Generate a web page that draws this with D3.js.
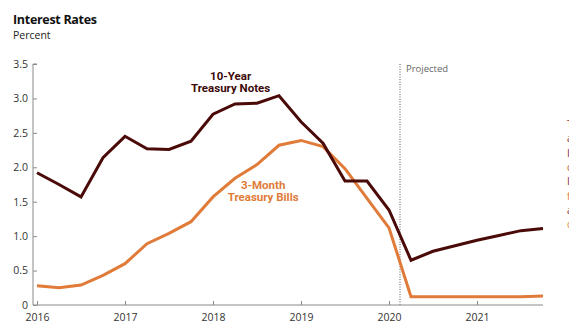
<!DOCTYPE html>
<html>
<head>
<meta charset="utf-8">
<title>Interest Rates</title>
<script src="https://d3js.org/d3.v7.min.js"></script>
<style>
  body { margin: 0; background: #fff; font-family: 'Open Sans', 'Liberation Sans', sans-serif; }
  svg { display: block; }
  .axis text { font-family: 'Open Sans', sans-serif; font-size: 10.5px; fill: #333; }
  .axis path, .axis line { stroke: #8a8a8a; }
  .lbl { font-family: 'Liberation Sans Narrow', 'Roboto', sans-serif; font-weight: bold; font-size: 11.5px; text-anchor: middle; }
</style>
</head>
<body>
<svg id="chart"></svg>
<script>
// quarterly, calendar years
const quarters = [2016, 2016.25, 2016.5, 2016.75, 2017, 2017.25, 2017.5, 2017.75,
  2018, 2018.25, 2018.5, 2018.75, 2019, 2019.25, 2019.5, 2019.75,
  2020, 2020.25, 2020.5, 2020.75, 2021, 2021.25, 2021.5, 2021.75];
const tenYear = [1.92, 1.75, 1.57, 2.14, 2.45, 2.27, 2.26, 2.38,
  2.77, 2.92, 2.93, 3.04, 2.66, 2.35, 1.80, 1.80,
  1.38, 0.65, 0.78, 0.86, 0.94, 1.01, 1.08, 1.11];
const threeMonth = [0.28, 0.25, 0.29, 0.43, 0.60, 0.89, 1.04, 1.21,
  1.57, 1.84, 2.04, 2.32, 2.39, 2.30, 1.98, 1.55,
  1.12, 0.12, 0.12, 0.12, 0.12, 0.12, 0.12, 0.13];
const yearTicks = [2016, 2017, 2018, 2019, 2020, 2021];
const rateTicks = [0, 0.5, 1.0, 1.5, 2.0, 2.5, 3.0, 3.5];
const projectedStart = 2020.125;

const width = 569, height = 335;
const margin = { top: 64, right: 26, bottom: 30, left: 37 };

const svg = d3.select("#chart").attr("width", width).attr("height", height);

const x = d3.scaleLinear().domain([2016, 2021.75]).range([margin.left, width - margin.right]);
const y = d3.scaleLinear().domain([0, 3.5]).range([height - margin.bottom, margin.top]);

// titles
svg.append("text").attr("x", 13).attr("y", 24)
  .style("font-family", "'Open Sans', sans-serif").style("font-weight", "bold")
  .style("font-size", "12.5px").style("fill", "#111").style("letter-spacing", "-0.3px")
  .text("Interest Rates");
svg.append("text").attr("x", 13).attr("y", 39)
  .style("font-family", "'Open Sans', sans-serif").style("font-size", "10.5px").style("fill", "#222")
  .text("Percent");

// projected divider
svg.append("line")
  .attr("x1", x(projectedStart)).attr("x2", x(projectedStart))
  .attr("y1", y(3.5)).attr("y2", y(0))
  .attr("stroke", "#555").attr("stroke-width", 1).attr("stroke-dasharray", "1,1.5");
svg.append("text").attr("x", x(projectedStart) + 6).attr("y", y(3.5) + 8)
  .style("font-family", "'Open Sans', sans-serif").style("font-size", "9.5px").style("fill", "#666")
  .text("Projected");

// axes
svg.append("g").attr("class", "axis")
  .attr("transform", `translate(${margin.left},0)`)
  .call(d3.axisLeft(y).tickValues(rateTicks).tickSize(4).tickPadding(5)
    .tickFormat(d => d === 0 ? "0" : d3.format(".1f")(d)))
  .call(g => g.select(".domain").attr("d", `M0,${y(3.5)}H-4V${y(0)}H0`));

svg.append("g").attr("class", "axis")
  .attr("transform", `translate(0,${height - margin.bottom})`)
  .call(d3.axisBottom(x).tickValues(yearTicks).tickSize(-4).tickPadding(9).tickFormat(d3.format("d")))
  .call(g => g.select(".domain").attr("d", `M${margin.left},0H${width - margin.right}`));

// lines
const line = d3.line().x((d, i) => x(quarters[i])).y(d => y(d));

svg.append("path").datum(threeMonth)
  .attr("fill", "none").attr("stroke", "#e07b39").attr("stroke-width", 3)
  .attr("stroke-linejoin", "miter").attr("d", line);
svg.append("path").datum(tenYear)
  .attr("fill", "none").attr("stroke", "#4a0a08").attr("stroke-width", 3)
  .attr("stroke-linejoin", "miter").attr("d", line);

// line labels
const ten = svg.append("text").attr("class", "lbl").style("fill", "#3d0a0a");
ten.append("tspan").attr("x", x(2018.2)).attr("y", 80).text("10-Year");
ten.append("tspan").attr("x", x(2018.2)).attr("y", 92).text("Treasury Notes");

const three = svg.append("text").attr("class", "lbl").style("fill", "#e07b39");
three.append("tspan").attr("x", x(2018.57)).attr("y", 189).text("3-Month");
three.append("tspan").attr("x", x(2018.57)).attr("y", 201).text("Treasury Bills");

// side note that runs off the right edge (only slivers visible)
const sideLines = ["The", "are", "In", "cla", "In", "fo", "an", "ca"];
const sideColors = ["#7a2a3a", "#7a2a3a", "#7a2a3a", "#b0603a", "#7a2a3a", "#e07b39", "#7a2a3a", "#e07b39"];
sideLines.forEach((s, i) => svg.append("text").attr("x", 567).attr("y", 128 + i * 14.3)
  .style("font-size", "10px").style("fill", sideColors[i]).text(s));
</script>
</body>
</html>
